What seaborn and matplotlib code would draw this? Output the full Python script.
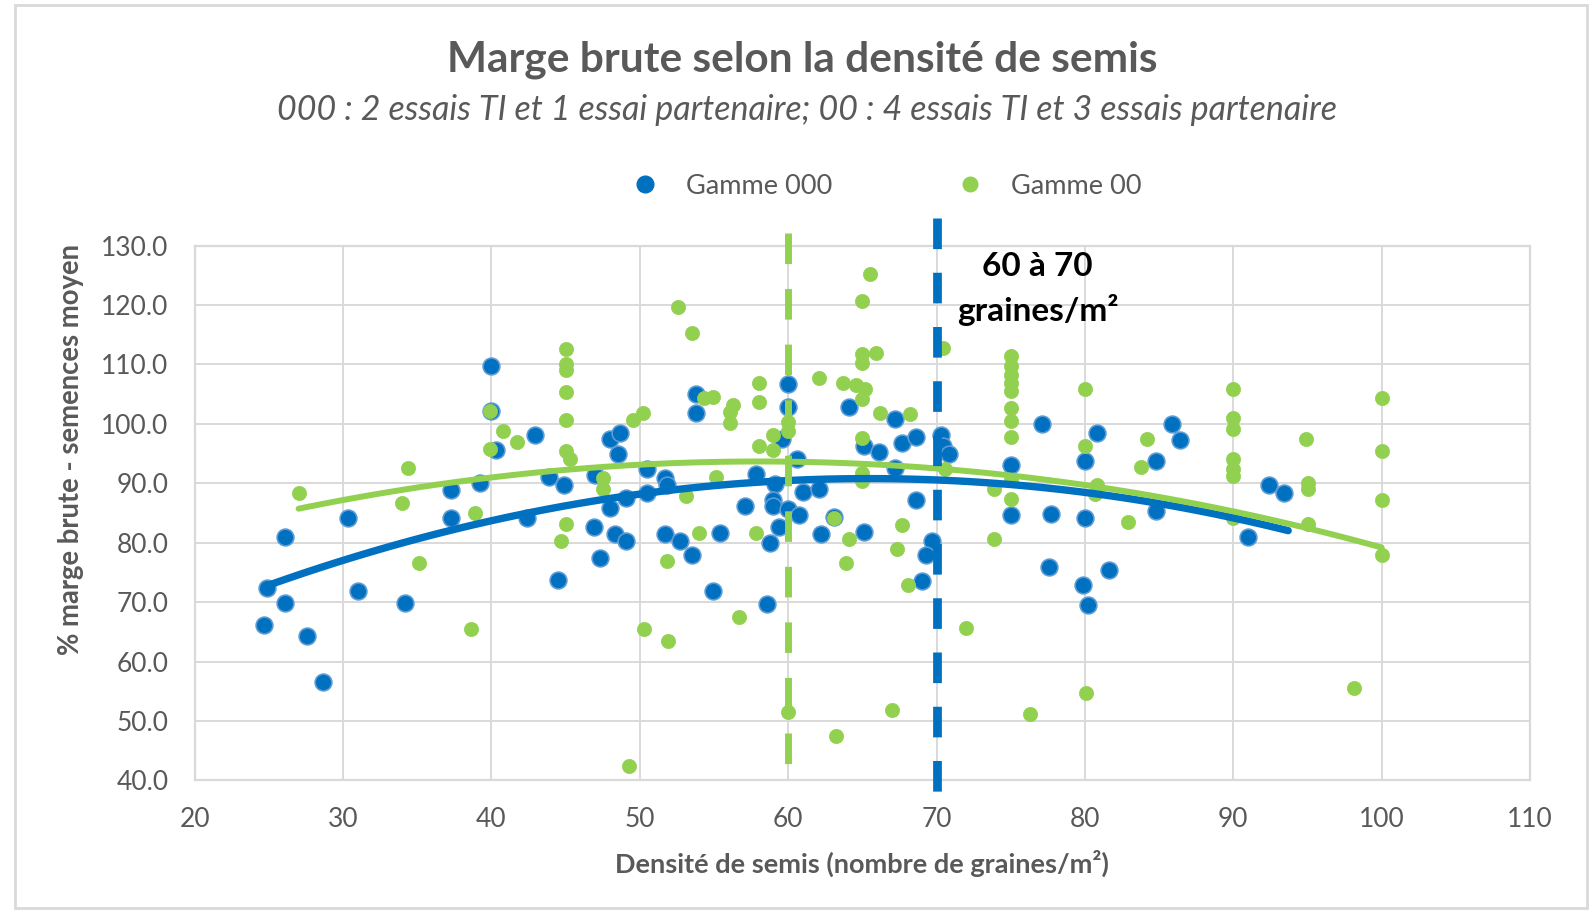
import numpy as np
import pandas as pd
import matplotlib
matplotlib.use('Agg')
import matplotlib.pyplot as plt
import seaborn as sns
from matplotlib.ticker import FormatStrFormatter, MultipleLocator
from matplotlib.lines import Line2D
from matplotlib.patches import Rectangle

# Gamme 000 (blue)
blue_x = [24.7, 24.85, 26.1, 26.1, 27.55, 28.65, 30.3, 31.0, 34.2, 37.3, 37.3, 39.2,
          40.0, 40.0, 40.3, 42.4, 42.9, 43.9, 44.5, 44.9, 46.9, 47.0, 47.3, 48.0,
          48.65, 48.5, 48.0, 48.3, 49.1, 49.1, 50.45, 50.45, 51.7, 51.8, 51.7, 52.7,
          53.5, 53.8, 53.8, 54.9, 55.4, 57.1, 57.8, 58.6, 58.8, 59.1, 59.0, 59.0,
          59.4, 59.6, 60.0, 60.0, 60.0, 60.6, 60.7, 61.0, 62.1, 62.2, 63.1, 64.1,
          65.1, 65.1, 66.1, 67.2, 67.7, 68.6, 67.2, 68.6, 69.7, 69.3, 69.0, 70.3,
          70.4, 70.85, 75.0, 75.0, 77.1, 77.7, 77.6, 80.0, 80.0, 80.8, 79.9, 80.2,
          81.6, 84.8, 84.8, 85.9, 86.4, 92.4, 93.4, 91.0]
blue_y = [66.2, 72.4, 80.9, 69.8, 64.3, 56.6, 84.1, 71.9, 69.8, 88.8, 84.1, 90.0,
          109.8, 102.2, 95.6, 84.1, 98.1, 91.0, 73.8, 89.7, 82.6, 91.4, 77.4, 97.5,
          98.5, 95.0, 85.9, 81.5, 87.6, 80.2, 92.4, 88.4, 90.9, 89.7, 81.5, 80.3,
          77.9, 105.0, 101.8, 71.9, 81.6, 86.2, 91.5, 69.6, 80.0, 89.9, 87.1, 86.1,
          82.6, 97.5, 106.7, 102.8, 85.6, 94.1, 84.7, 88.5, 89.1, 81.5, 84.4, 102.8,
          96.2, 81.8, 95.2, 100.8, 96.8, 97.8, 92.6, 87.2, 80.2, 77.9, 73.5, 98.2,
          96.2, 95.0, 93.1, 84.7, 99.9, 84.8, 75.9, 93.8, 84.1, 98.4, 72.9, 69.5,
          75.4, 93.8, 85.3, 99.9, 97.2, 89.7, 88.4, 80.9]

# Gamme 00 (green)
green_x = [27.0, 34.0, 34.4, 35.1, 38.6, 38.9, 39.9, 39.9, 40.8, 41.75, 44.7, 45.0,
           45.0, 45.3, 45.0, 45.0, 45.0, 45.0, 45.0, 47.5, 47.5, 49.3, 49.55, 50.2,
           50.3, 51.9, 51.8, 52.6, 53.5, 53.1, 54.0, 54.3, 54.9, 55.1, 56.3, 56.1,
           56.1, 56.7, 57.8, 58.0, 58.0, 58.0, 59.0, 59.0, 60.0, 60.0, 60.0, 62.1,
           63.1, 63.2, 63.7, 63.9, 64.1, 64.6, 65.0, 65.2, 65.0, 65.0, 65.0, 65.5,
           65.0, 65.0, 65.0, 65.9, 66.2, 67.0, 67.3, 67.7, 68.1, 68.2, 70.4, 70.6,
           72.0, 73.9, 73.9, 75.0, 75.0, 75.0, 75.0, 75.0, 75.0, 75.0, 75.0, 75.0,
           75.0, 76.3, 80.0, 80.0, 80.8, 80.7, 80.1, 82.9, 83.8, 84.2, 90.0, 90.0,
           90.0, 90.0, 90.0, 90.0, 90.0, 94.9, 95.0, 95.0, 95.0, 98.1, 100.0, 100.0,
           100.0, 100.0]
green_y = [88.4, 86.6, 92.5, 76.6, 65.5, 85.0, 102.1, 95.7, 98.8, 96.9, 80.3, 83.2,
           95.4, 94.1, 100.7, 105.3, 109.0, 110.0, 112.6, 90.9, 89.0, 42.4, 100.6, 101.8,
           65.5, 63.5, 76.9, 119.7, 115.3, 87.8, 81.6, 104.3, 104.6, 91.0, 103.2, 102.0,
           100.2, 67.5, 81.7, 106.8, 103.7, 96.2, 98.2, 95.6, 100.3, 98.8, 51.5, 107.8,
           84.1, 47.4, 106.9, 76.5, 80.6, 106.5, 104.1, 105.9, 110.3, 111.8, 120.6, 125.3,
           97.6, 91.8, 90.3, 111.9, 101.9, 51.8, 79.0, 82.9, 72.8, 101.6, 112.8, 92.4,
           65.7, 89.1, 80.6, 111.5, 109.7, 108.2, 106.8, 105.6, 102.6, 100.4, 97.8, 90.6,
           87.4, 51.2, 105.9, 96.2, 89.7, 88.2, 54.7, 83.5, 92.8, 97.5, 105.9, 100.9,
           99.1, 94.1, 92.4, 91.2, 84.1, 97.5, 90.1, 89.0, 83.1, 55.6, 104.3, 95.4,
           87.1, 77.9]

# Excel polynomial trend lines
blue_trend_x = [24.85, 30, 40, 50, 54, 60, 65, 70, 75, 80, 84.3, 90, 93.7]
blue_trend_y = [72.9, 76.8, 83.8, 88.3, 89.2, 90.3, 90.6, 90.6, 90.0, 88.7, 87.0, 83.9, 82.0]
green_trend_x = [27, 30, 40, 50, 54, 60, 65, 70, 75, 80, 84.3, 90, 95, 100]
green_trend_y = [85.9, 87.2, 90.7, 92.9, 93.6, 93.6, 93.4, 92.7, 91.4, 89.6, 88.3, 84.7, 82.6, 79.2]

BLUE = '#0070C0'
GREEN = '#92D050'
GREY = '#595959'
GRID = '#D9D9D9'

sns.set_style('white')
plt.rcParams['font.family'] = ['Lato', 'DejaVu Sans']

fig = plt.figure(figsize=(15.91, 9.13), dpi=100)
ax = fig.add_axes([0.1224, 0.1453, 0.8393, 0.5857])

sns.scatterplot(x=blue_x, y=blue_y, ax=ax, color=BLUE, s=145,
                edgecolor='#5B9BD5', linewidth=1.2, zorder=3)
sns.scatterplot(x=green_x, y=green_y, ax=ax, color=GREEN, s=105,
                edgecolor=GREEN, linewidth=0.5, zorder=3)

sns.regplot(x=blue_trend_x, y=blue_trend_y, order=2, ci=None, scatter=False, ax=ax,
            line_kws=dict(color=BLUE, lw=5.3, zorder=4, solid_capstyle='round'))
sns.regplot(x=green_trend_x, y=green_trend_y, order=2, ci=None, scatter=False, ax=ax,
            line_kws=dict(color=GREEN, lw=4.3, zorder=5, solid_capstyle='round'))

# vertical dashed markers at 60 and 70 graines/m² (drawn from the top down)
xt = ax.get_xaxis_transform()
ax.plot([60, 60], [1.023, 0.023], transform=xt, color=GREEN, lw=5,
        linestyle=(0, (4.4, 3.6)), clip_on=False, zorder=6)
ax.plot([70, 70], [1.051, -0.021], transform=xt, color=BLUE, lw=6.3,
        linestyle=(0, (3.5, 2.7)), clip_on=False, zorder=6)

ax.text(76.8, 126.5, '60 à 70', ha='center', va='center', fontsize=24,
        fontweight='bold', color='black', zorder=7)
ax.text(76.8, 119.2, 'graines/m²', ha='center', va='center', fontsize=24,
        fontweight='bold', color='black', zorder=7)

ax.set_xlim(20, 110)
ax.set_ylim(40, 130)
ax.xaxis.set_major_locator(MultipleLocator(10))
ax.yaxis.set_major_locator(MultipleLocator(10))
ax.yaxis.set_major_formatter(FormatStrFormatter('%.1f'))
ax.grid(True, color=GRID, lw=1.4)
ax.set_axisbelow(True)
for sp in ax.spines.values():
    sp.set_color(GRID)
    sp.set_linewidth(1.6)
ax.tick_params(axis='both', length=0, labelsize=19, colors=GREY)
ax.tick_params(axis='x', pad=19)
ax.tick_params(axis='y', pad=19)
ax.set_xlabel('Densité de semis (nombre de graines/m²)', fontsize=19.5,
              fontweight='bold', color=GREY, labelpad=13)
ax.set_ylabel('')
fig.text(0.0446, 0.508, '% marge brute - semences moyen', rotation=90,
         ha='center', va='center', fontsize=19.8, fontweight='bold', color=GREY)

fig.text(0.5045, 0.935, 'Marge brute selon la densité de semis', ha='center',
         va='center', fontsize=30.5, fontweight='bold', color=GREY)
fig.text(0.507, 0.880, '000 : 2 essais TI et 1 essai partenaire; 00 : 4 essais TI et 3 essais partenaire',
         ha='center', va='center', fontsize=24.5, style='italic', color=GREY)

handles = [Line2D([], [], marker='o', ls='', color=BLUE, markersize=12, label='Gamme 000'),
           Line2D([], [], marker='o', ls='', color=GREEN, markersize=10.5, label='Gamme 00')]
fig.legend(handles=handles, loc='center', bbox_to_anchor=(0.557, 0.796), ncol=2,
           frameon=False, fontsize=19.5, labelcolor=GREY, handlelength=1.0,
           handletextpad=1.0, columnspacing=4.6)

fig.patches.append(Rectangle((0.0095, 0.006), 0.988, 0.989, transform=fig.transFigure,
                             fill=False, edgecolor=GRID, lw=2))

fig.savefig('out.png', dpi=100)
